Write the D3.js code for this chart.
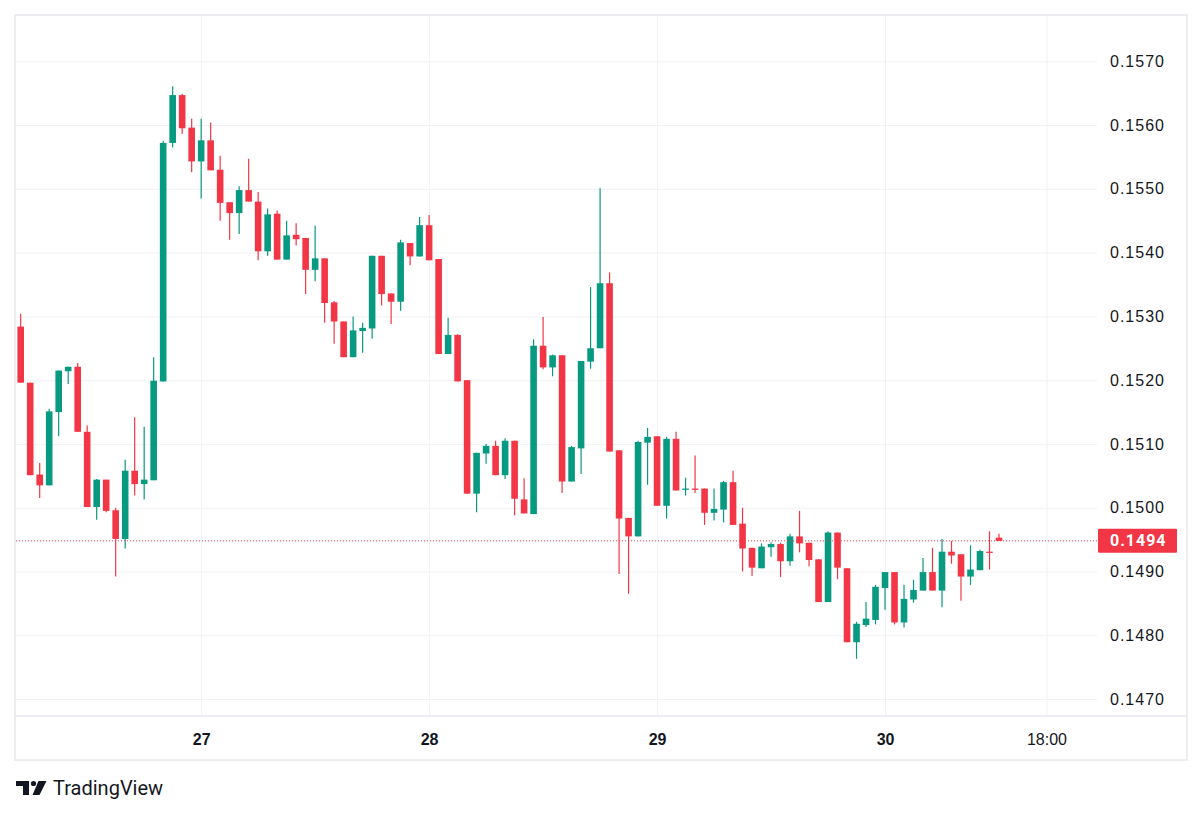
<!DOCTYPE html>
<html>
<head>
<meta charset="utf-8">
<script src="https://cdn.jsdelivr.net/npm/d3@7"></script>
<style>
  body { margin: 0; background: #fff; }
  svg { display: block; font-family: Roboto, "Liberation Sans", sans-serif; }
</style>
</head>
<body>
<svg id="chart" width="1200" height="817"></svg>
<script>
// hourly candles, 26th 05:00 -> 30th 12:00
const openP = [
  .15284,.15196,.15052,.15035,.15150,.15214,.15221,.15119,.15001,.15044,
  .14996,.14951,.15058,.15037,.15043,.15198,.15572,.15647,.15596,.15543,
  .15576,.15530,.15479,.15462,.15498,.15480,.15402,.15461,.15389,.15428,
  .15423,.15373,.15391,.15322,.15292,.15236,.15277,.15281,.15395,.15336,
  .15323,.15415,.15394,.15443,.15390,.15241,.15271,.15200,.15022,.15085,
  .15097,.15051,.15105,.15013,.14990,.15254,.15220,.15239,.15041,.15093,
  .15229,.15250,.15352,.15090,.14984,.14955,.15102,.15112,.15003,.15108,
  .15028,.15030,.15030,.14992,.14997,.15040,.14975,.14937,.14905,.14938,
  .14943,.14916,.14955,.14945,.14919,.14852,.14961,.14905,.14789,.14816,
  .14824,.14874,.14899,.14820,.14856,.14870,.14899,.14870,.14931,.14927,
  .14892,.14902,.14931,.14953
];
const highP = [
  .15304,.15196,.15070,.15155,.15215,.15221,.15227,.15129,.15045,.15044,
  .15000,.15075,.15142,.15127,.15236,.15575,.15661,.15649,.15610,.15610,
  .15604,.15552,.15479,.15504,.15547,.15495,.15469,.15466,.15450,.15446,
  .15423,.15442,.15391,.15324,.15292,.15300,.15290,.15395,.15395,.15336,
  .15420,.15415,.15456,.15459,.15390,.15298,.15272,.15200,.15086,.15100,
  .15105,.15109,.15105,.15046,.15264,.15299,.15240,.15239,.15097,.15230,
  .15346,.15501,.15369,.15090,.14984,.15105,.15125,.15112,.15111,.15119,
  .15047,.15082,.15030,.15030,.15042,.15058,.15000,.14937,.14944,.14946,
  .14945,.14959,.14995,.14945,.14919,.14963,.14961,.14905,.14821,.14852,
  .14879,.14899,.14899,.14879,.14887,.14921,.14937,.14951,.14948,.14927,
  .14941,.14934,.14963,.14959
];
const lowP = [
  .15196,.15051,.15015,.15035,.15112,.15194,.15119,.15001,.14981,.14993,
  .14892,.14936,.15019,.15013,.15043,.15198,.15565,.15586,.15526,.15485,
  .15529,.15450,.15420,.15429,.15480,.15388,.15395,.15389,.15389,.15411,
  .15335,.15355,.15290,.15257,.15236,.15236,.15243,.15265,.15317,.15288,
  .15309,.15380,.15394,.15388,.15241,.15241,.15198,.15022,.14993,.15069,
  .15051,.15045,.14988,.14991,.14990,.15217,.15206,.15023,.15041,.15053,
  .15218,.15250,.15088,.14896,.14865,.14955,.15036,.15003,.14983,.15027,
  .15019,.15023,.14973,.14980,.14977,.14973,.14900,.14893,.14905,.14923,
  .14891,.14909,.14930,.14908,.14852,.14852,.14888,.14789,.14763,.14813,
  .14817,.14840,.14817,.14812,.14851,.14870,.14870,.14844,.14912,.14854,
  .14879,.14902,.14903,.14948
];
const closeP = [
  .15196,.15051,.15035,.15151,.15215,.15221,.15119,.15001,.15044,.14995,
  .14951,.15058,.15037,.15044,.15199,.15572,.15647,.15595,.15543,.15576,
  .15529,.15478,.15462,.15498,.15480,.15402,.15460,.15389,.15427,.15421,
  .15373,.15391,.15321,.15292,.15236,.15278,.15282,.15395,.15335,.15323,
  .15416,.15394,.15443,.15388,.15241,.15271,.15198,.15022,.15086,.15097,
  .15051,.15105,.15014,.14991,.15254,.15220,.15239,.15041,.15095,.15230,
  .15250,.15352,.15088,.14983,.14955,.15103,.15111,.15003,.15108,.15027,
  .15030,.15028,.14992,.14998,.15040,.14973,.14936,.14906,.14939,.14943,
  .14916,.14955,.14944,.14918,.14852,.14961,.14906,.14789,.14818,.14826,
  .14876,.14899,.14820,.14857,.14871,.14899,.14870,.14931,.14925,.14892,
  .14903,.14932,.14930,.14948
];

// time axis: bar index of each label
const timeTicks = [19, 43, 67, 91, 108];
const timeLabels = ["27", "28", "29", "30", "18:00"];
const priceTicks = [0.1470, 0.1480, 0.1490, 0.1500, 0.1510, 0.1520, 0.1530, 0.1540, 0.1550, 0.1560, 0.1570];

const UP = "#089981", DOWN = "#f23645";
const box = {left: 15, top: 15, right: 1187, bottom: 760};
const plotRight = 1097, axisY = 716;

var svg = d3.select("#chart");

var x = d3.scaleLinear().domain([0, openP.length - 1]).range([20.7, 999]);
var y = d3.scaleLinear().domain([0.1470, 0.1570]).range([699, 61.3]);

var bars = openP.map(function(o, i) {
  return {i: i, o: o, h: highP[i], l: lowP[i], c: closeP[i]};
});

svg.append("defs").append("clipPath").attr("id", "plotClip")
  .append("rect")
  .attr("x", box.left).attr("y", box.top)
  .attr("width", plotRight - box.left).attr("height", axisY - box.top);

// grid
var hGrid = svg.append("g")
  .attr("transform", "translate(" + box.left + ",0)")
  .call(d3.axisRight(y).tickValues(priceTicks).tickSize(plotRight - box.left).tickFormat(""));
var vGrid = svg.append("g")
  .attr("transform", "translate(0," + axisY + ")")
  .call(d3.axisBottom(x).tickValues(timeTicks).tickSize(-(axisY - box.top)).tickFormat(""));
[hGrid, vGrid].forEach(function(g) {
  g.select(".domain").remove();
  g.selectAll("line").attr("stroke", "#f0f2f6").attr("stroke-width", 1);
});

// frame
svg.append("rect")
  .attr("x", box.left).attr("y", box.top)
  .attr("width", box.right - box.left).attr("height", box.bottom - box.top)
  .attr("fill", "none").attr("stroke", "#e6e8ec").attr("stroke-width", 1.5);
svg.append("line")
  .attr("x1", box.left).attr("x2", box.right)
  .attr("y1", axisY).attr("y2", axisY)
  .attr("stroke", "#e6e8ec").attr("stroke-width", 1.5);

// candles
var plot = svg.append("g").attr("clip-path", "url(#plotClip)");
var bodyW = 6.6;

plot.selectAll(".wick")
  .data(bars)
  .enter().append("line")
  .attr("class", "wick")
  .attr("x1", function(d) { return x(d.i); })
  .attr("x2", function(d) { return x(d.i); })
  .attr("y1", function(d) { return y(d.h); })
  .attr("y2", function(d) { return y(d.l); })
  .attr("stroke", function(d) { return d.c >= d.o ? UP : DOWN; })
  .attr("stroke-width", 1.2);

plot.selectAll(".body")
  .data(bars)
  .enter().append("rect")
  .attr("class", "body")
  .attr("x", function(d) { return x(d.i) - bodyW / 2; })
  .attr("width", bodyW)
  .attr("y", function(d) { return y(Math.max(d.o, d.c)); })
  .attr("height", function(d) { return Math.max(1.2, Math.abs(y(d.o) - y(d.c))); })
  .attr("fill", function(d) { return d.c >= d.o ? UP : DOWN; });

// last price line
var last = closeP[closeP.length - 1];
svg.append("line")
  .attr("x1", box.left + 1).attr("x2", plotRight)
  .attr("y1", y(last)).attr("y2", y(last))
  .attr("stroke", DOWN).attr("stroke-width", 1)
  .attr("stroke-dasharray", "1 2");

// price axis
var pAxis = svg.append("g")
  .attr("transform", "translate(1110,0)")
  .call(d3.axisRight(y).tickValues(priceTicks).tickSize(0).tickPadding(0).tickFormat(d3.format(".4f")));
pAxis.select(".domain").remove();
pAxis.selectAll("text")
  .attr("fill", "#131722")
  .style("font-size", "16px")
  .style("font-weight", "500")
  .style("letter-spacing", "1px");

// last price tag
svg.append("rect")
  .attr("x", 1098).attr("y", y(last) - 12)
  .attr("width", 79).attr("height", 24)
  .attr("fill", DOWN).attr("rx", 1);
svg.append("text")
  .attr("x", 1110).attr("y", y(last))
  .attr("dy", "0.32em")
  .attr("fill", "#fff")
  .style("font-size", "16px")
  .style("font-weight", "bold")
  .style("letter-spacing", "1px")
  .text((Math.floor(last * 10000) / 10000).toFixed(4));

// time axis
var tAxis = svg.append("g")
  .attr("transform", "translate(0," + axisY + ")")
  .call(d3.axisBottom(x).tickValues(timeTicks).tickSize(0).tickPadding(18)
    .tickFormat(function(d, i) { return timeLabels[i]; }));
tAxis.select(".domain").remove();
tAxis.selectAll("text")
  .attr("fill", "#131722")
  .style("font-size", "16px")
  .style("font-weight", function(d, i) { return timeLabels[i].indexOf(":") < 0 ? "bold" : "normal"; });

// TradingView mark
var logo = svg.append("g").attr("fill", "#131722");
logo.append("path").attr("d", "M16,781H29V795H23V786H16Z");
logo.append("circle").attr("cx", 33.5).attr("cy", 783.5).attr("r", 2.6);
logo.append("path").attr("d", "M38.5,781H46.5L39.5,795H32.5Z");
logo.append("text")
  .attr("x", 53).attr("y", 795)
  .style("font-size", "20px")
  .text("TradingView");
</script>
</body>
</html>
